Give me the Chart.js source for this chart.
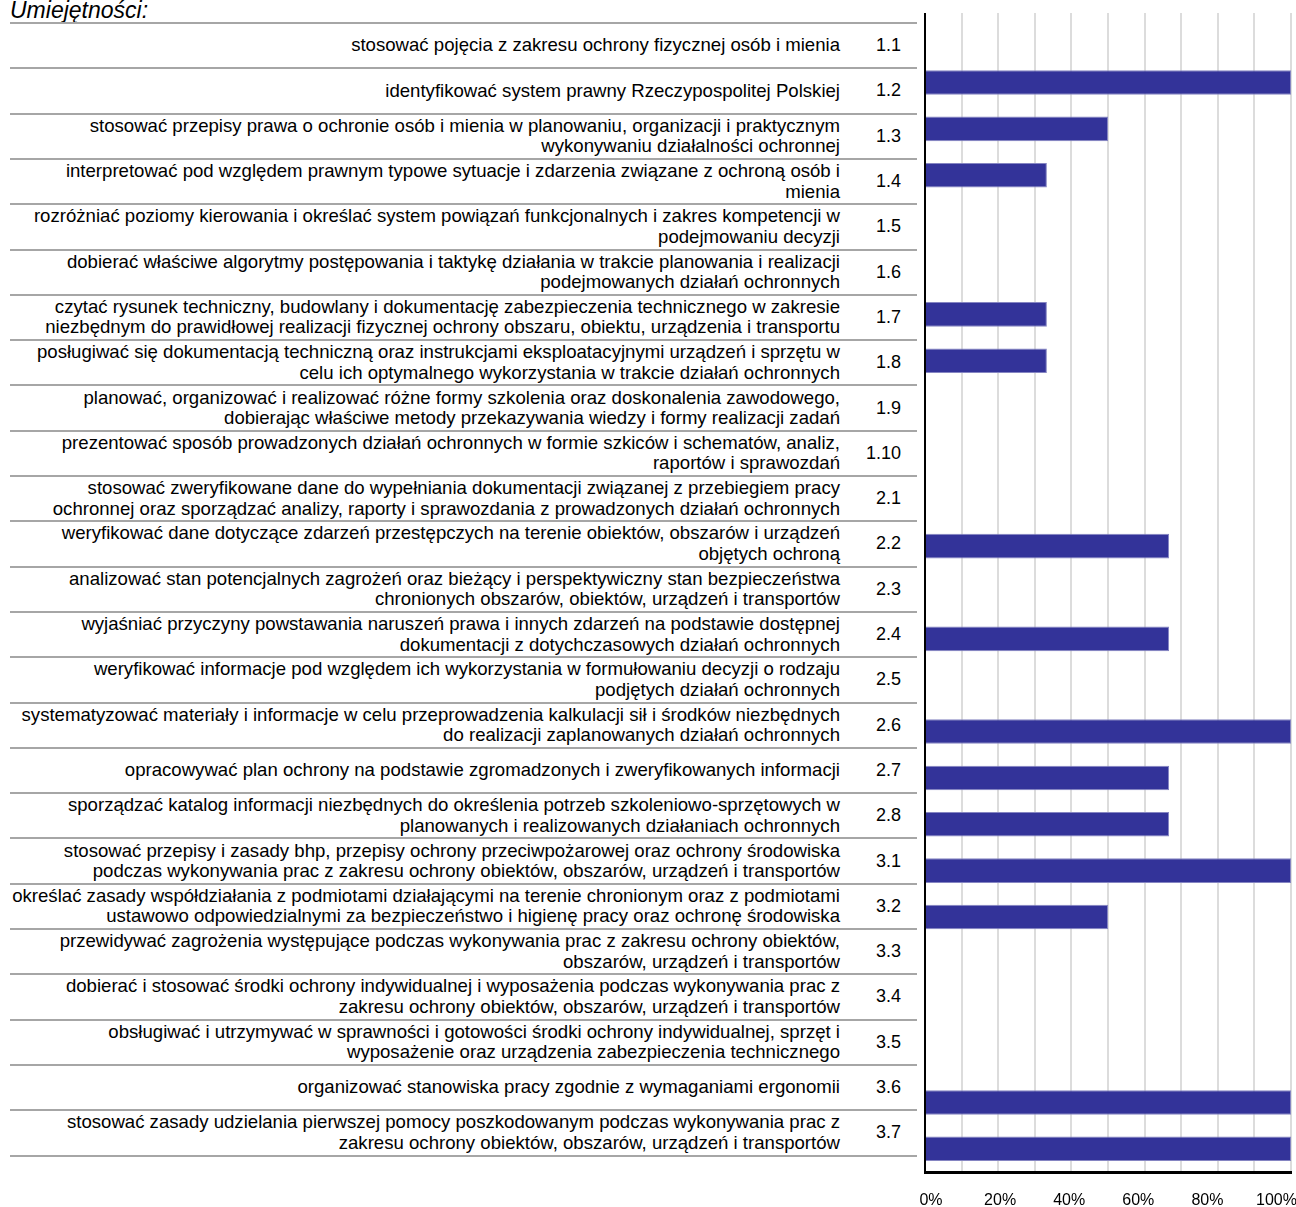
<!DOCTYPE html>
<html>
<head>
<meta charset="utf-8">
<script src="https://cdn.jsdelivr.net/npm/chart.js@4.4.0/dist/chart.umd.min.js"></script>
<style>
    body { margin: 0; background: #fff; overflow: hidden; }
    #wrap { position: relative; width: 1296px; height: 1207px; font-family: "Liberation Sans", Arial, sans-serif; color: #000; }
    #tytul { position: absolute; left: 10px; top: -1px; font-size: 23px; line-height: 23px; font-style: italic; }
    .linia { position: absolute; left: 10px; width: 907px; height: 2px; background: #a6a6a6; }
    .opis { position: absolute; left: 0; width: 840px; display: flex; flex-direction: column; justify-content: center; align-items: flex-end; text-align: right; font-size: 18.6px; line-height: 20.5px; white-space: nowrap; }
    .kod { position: absolute; left: 840px; width: 61px; display: flex; align-items: center; justify-content: flex-end; font-size: 18px; }
    #wykres { position: absolute; left: 0; top: 0; pointer-events: none; }
</style>
</head>
<body>
<div id="wrap">
    <div id="tytul">Umiejętności:</div>
    <div id="tabela"></div>
    <canvas id="wykres" width="1296" height="1207"></canvas>
</div>
<script>
const kody = ['1.1', '1.2', '1.3', '1.4', '1.5', '1.6', '1.7', '1.8', '1.9', '1.10',
    '2.1', '2.2', '2.3', '2.4', '2.5', '2.6', '2.7', '2.8',
    '3.1', '3.2', '3.3', '3.4', '3.5', '3.6', '3.7'];

const umiejetnosci = [
    ['stosować pojęcia z zakresu ochrony fizycznej osób i mienia'],
    ['identyfikować system prawny Rzeczypospolitej Polskiej'],
    ['stosować przepisy prawa o ochronie osób i mienia w planowaniu, organizacji i praktycznym', 'wykonywaniu działalności ochronnej'],
    ['interpretować pod względem prawnym typowe sytuacje i zdarzenia związane z ochroną osób i', 'mienia'],
    ['rozróżniać poziomy kierowania i określać system powiązań funkcjonalnych i zakres kompetencji w', 'podejmowaniu decyzji'],
    ['dobierać właściwe algorytmy postępowania i taktykę działania w trakcie planowania i realizacji', 'podejmowanych działań ochronnych'],
    ['czytać rysunek techniczny, budowlany i dokumentację zabezpieczenia technicznego w zakresie', 'niezbędnym do prawidłowej realizacji fizycznej ochrony obszaru, obiektu, urządzenia i transportu'],
    ['posługiwać się dokumentacją techniczną oraz instrukcjami eksploatacyjnymi urządzeń i sprzętu w', 'celu ich optymalnego wykorzystania w trakcie działań ochronnych'],
    ['planować, organizować i realizować różne formy szkolenia oraz doskonalenia zawodowego,', 'dobierając właściwe metody przekazywania wiedzy i formy realizacji zadań'],
    ['prezentować sposób prowadzonych działań ochronnych w formie szkiców i schematów, analiz,', 'raportów i sprawozdań'],
    ['stosować zweryfikowane dane do wypełniania dokumentacji związanej z przebiegiem pracy', 'ochronnej oraz sporządzać analizy, raporty i sprawozdania z prowadzonych działań ochronnych'],
    ['weryfikować dane dotyczące zdarzeń przestępczych na terenie obiektów, obszarów i urządzeń', 'objętych ochroną'],
    ['analizować stan potencjalnych zagrożeń oraz bieżący i perspektywiczny stan bezpieczeństwa', 'chronionych obszarów, obiektów, urządzeń i transportów'],
    ['wyjaśniać przyczyny powstawania naruszeń prawa i innych zdarzeń na podstawie dostępnej', 'dokumentacji z dotychczasowych działań ochronnych'],
    ['weryfikować informacje pod względem ich wykorzystania w formułowaniu decyzji o rodzaju', 'podjętych działań ochronnych'],
    ['systematyzować materiały i informacje w celu przeprowadzenia kalkulacji sił i środków niezbędnych', 'do realizacji zaplanowanych działań ochronnych'],
    ['opracowywać plan ochrony na podstawie zgromadzonych i zweryfikowanych informacji'],
    ['sporządzać katalog informacji niezbędnych do określenia potrzeb szkoleniowo-sprzętowych w', 'planowanych i realizowanych działaniach ochronnych'],
    ['stosować przepisy i zasady bhp, przepisy ochrony przeciwpożarowej oraz ochrony środowiska', 'podczas wykonywania prac z zakresu ochrony obiektów, obszarów, urządzeń i transportów'],
    ['określać zasady współdziałania z podmiotami działającymi na terenie chronionym oraz z podmiotami', 'ustawowo odpowiedzialnymi za bezpieczeństwo i higienę pracy oraz ochronę środowiska'],
    ['przewidywać zagrożenia występujące podczas wykonywania prac z zakresu ochrony obiektów,', 'obszarów, urządzeń i transportów'],
    ['dobierać i stosować środki ochrony indywidualnej i wyposażenia podczas wykonywania prac z', 'zakresu ochrony obiektów, obszarów, urządzeń i transportów'],
    ['obsługiwać i utrzymywać w sprawności i gotowości środki ochrony indywidualnej, sprzęt i', 'wyposażenie oraz urządzenia zabezpieczenia technicznego'],
    ['organizować stanowiska pracy zgodnie z wymaganiami ergonomii'],
    ['stosować zasady udzielania pierwszej pomocy poszkodowanym podczas wykonywania prac z', 'zakresu ochrony obiektów, obszarów, urządzeń i transportów']
];

// procent odpowiedzi
const wartosci = [0, 100, 50, 33.3, 0, 0, 33.3, 33.3, 0, 0,
    0, 66.7, 0, 66.7, 0, 100, 66.7, 66.7,
    100, 50, 0, 0, 0, 100, 100];

const etykietyOsi = [0, 20, 40, 60, 80, 100];

// tabela z opisami po lewej
const tabela = document.getElementById('tabela');
const gora = 23;
const wiersz = 45.3;
for (let i = 0; i <= kody.length; i++) {
    const linia = document.createElement('div');
    linia.className = 'linia';
    linia.style.top = (gora + wiersz * i - 1) + 'px';
    tabela.appendChild(linia);
}
kody.forEach(function(kod, i) {
    const opis = document.createElement('div');
    opis.className = 'opis';
    opis.style.top = (gora + wiersz * i) + 'px';
    opis.style.height = wiersz + 'px';
    umiejetnosci[i].forEach(function(tekst) {
        const s = document.createElement('div');
        s.textContent = tekst;
        opis.appendChild(s);
    });
    tabela.appendChild(opis);

    const k = document.createElement('div');
    k.className = 'kod';
    k.style.top = (gora + wiersz * i) + 'px';
    k.style.height = wiersz + 'px';
    k.textContent = kod;
    tabela.appendChild(k);
});

const czcionka = '"Liberation Sans", Arial, sans-serif';

const wykres = new Chart(document.getElementById('wykres'), {
    type: 'bar',
    data: {
        labels: kody,
        datasets: [{
            data: wartosci,
            backgroundColor: '#333399',
            borderColor: '#8585c2',
            borderWidth: 1,
            barPercentage: 0.53,
            categoryPercentage: 1
        }]
    },
    options: {
        indexAxis: 'y',
        responsive: false,
        animation: false,
        layout: {
            autoPadding: false,
            padding: { left: 925, right: 5, top: 13, bottom: 0 }
        },
        plugins: {
            legend: { display: false },
            tooltip: { enabled: false }
        },
        scales: {
            y: { display: false },
            x: {
                type: 'linear',
                min: 0,
                max: 100,
                ticks: { stepSize: 10, display: false },
                grid: {
                    color: c => c.tick.value === 0 ? '#000' : '#dcdcdc',
                    lineWidth: 2,
                    drawTicks: false
                },
                border: { display: true, color: '#000', width: 3 },
                afterFit: s => { s.height = 0; s.paddingLeft = 0; s.paddingRight = 0; }
            },
            x2: {
                type: 'linear',
                axis: 'x',
                position: 'bottom',
                min: -1.74,
                max: 104.19,
                grid: { display: false, drawTicks: false },
                border: { display: false },
                ticks: {
                    padding: 19,
                    color: '#000',
                    font: { size: 16, family: czcionka },
                    callback: v => v + '%'
                },
                afterBuildTicks: s => { s.ticks = etykietyOsi.map(v => ({ value: v })); },
                afterFit: s => { s.height = 35; s.paddingLeft = 0; s.paddingRight = 0; }
            }
        }
    }
});
</script>
</body>
</html>
